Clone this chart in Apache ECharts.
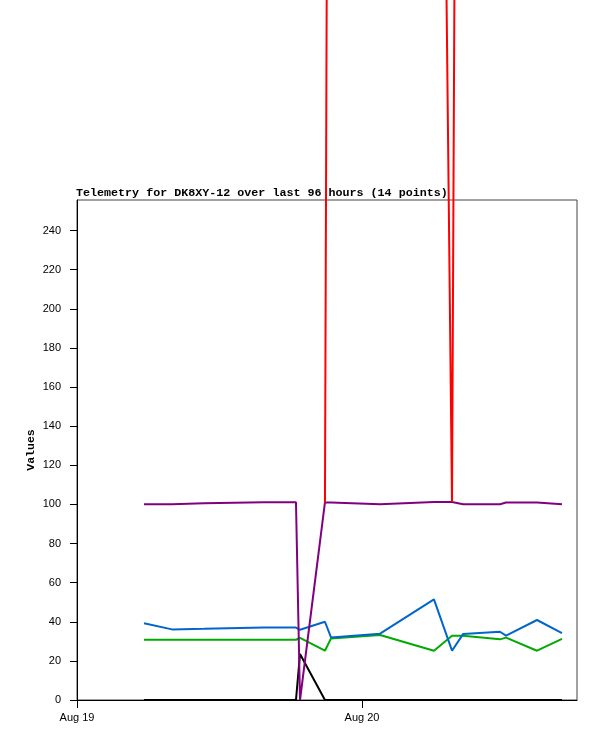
<!DOCTYPE html>
<html><head><meta charset="utf-8">
<script src="https://cdn.jsdelivr.net/npm/echarts@6/dist/echarts.min.js"></script>
<style>html,body{margin:0;padding:0;background:#fff}#c{width:597px;height:741px}</style>
</head><body><div id="c"></div>
<script>
// hours after Aug 19 00:00
const hours  = [5.64, 8.00, 10.69, 15.75, 18.44, 18.78, 20.88, 21.39, 25.52, 30.06, 31.58, 32.51, 35.62, 36.13, 38.74, 40.84];
const red    = [null, null, null, null, null, null, 101.0, 1000, 1000, 950, 101.2, 1300, 1300, 1300, 1300, 1300];
const purple = [100.1, 100.1, 100.6, 101.1, 101.1, 0, 101.0, 101.0, 100.1, 101.2, 101.2, 100.1, 100.1, 101.0, 101.0, 100.1];
const blue   = [39.2, 36.1, 36.4, 37.1, 37.0, 35.9, 40.0, 32.0, 33.9, 51.4, 25.2, 33.7, 34.9, 32.9, 40.9, 34.2];
const green  = [30.8, 30.8, 30.8, 30.8, 30.8, 31.8, 25.2, 31.5, 33.2, 25.2, 32.8, 32.8, 31.0, 31.9, 25.2, 31.2];
const black  = [0, 0, 0, 0, 0, 23.5, 0, 0, 0, 0, 0, 0, 0, 0, 0, 0];
const xTicks = [0, 24];
const xTickLabels = {0: 'Aug 19', 24: 'Aug 20'};
const yTicks = [0, 20, 40, 60, 80, 100, 120, 140, 160, 180, 200, 220, 240];
const titleText = 'Telemetry for DK8XY-12 over last 96 hours (14 points)';

const pts = arr => hours.map((h, i) => [h, arr[i]]);
const mk = (data, color, z) => ({
  type: 'line', data: pts(data), symbol: 'none', clip: false, z: z,
  connectNulls: false, animation: false,
  lineStyle: {color: color, width: 2}, itemStyle: {color: color}
});

const chart = echarts.init(document.getElementById('c'));
chart.setOption({
  animation: false,
  backgroundColor: '#fff',
  title: {
    text: titleText, left: 76, top: 187.5, padding: 0,
    textStyle: {fontFamily: 'Liberation Mono', fontWeight: 'bold', fontSize: 11.7, color: '#000'}
  },
  grid: {left: 77, right: 20, top: 200, bottom: 41, show: true, borderColor: '#444', borderWidth: 1,
         containLabel: false, outerBoundsMode: 'none'},
  xAxis: {
    type: 'value', min: 0, max: 42.105, interval: 24,
    splitLine: {show: false},
    axisLine: {show: true, lineStyle: {color: '#000', width: 1}},
    axisTick: {show: true, length: 8, customValues: xTicks, lineStyle: {color: '#000'}},
    axisLabel: {customValues: xTicks, formatter: v => xTickLabels[v] || '', margin: 12,
                fontFamily: 'Liberation Sans', fontSize: 11, color: '#000'}
  },
  yAxis: {
    type: 'value', min: 0, max: 255.6, interval: 20,
    name: 'Values', nameLocation: 'middle', nameGap: 40, nameRotate: 90, nameMoveOverlap: false,
    nameTextStyle: {fontFamily: 'Liberation Mono', fontWeight: 'bold', fontSize: 11.5, color: '#000'},
    splitLine: {show: false},
    axisLine: {show: true, lineStyle: {color: '#000', width: 1}},
    axisTick: {show: true, length: 7, customValues: yTicks, lineStyle: {color: '#000'}},
    axisLabel: {customValues: yTicks, margin: 16, fontFamily: 'Liberation Sans', fontSize: 11, color: '#000'}
  },
  series: [
    mk(black, '#000000', 2),
    mk(green, '#00aa00', 3),
    mk(blue, '#0066cc', 4),
    mk(purple, '#800080', 5),
    mk(red, '#ff0000', 6)
  ]
});
</script></body></html>
